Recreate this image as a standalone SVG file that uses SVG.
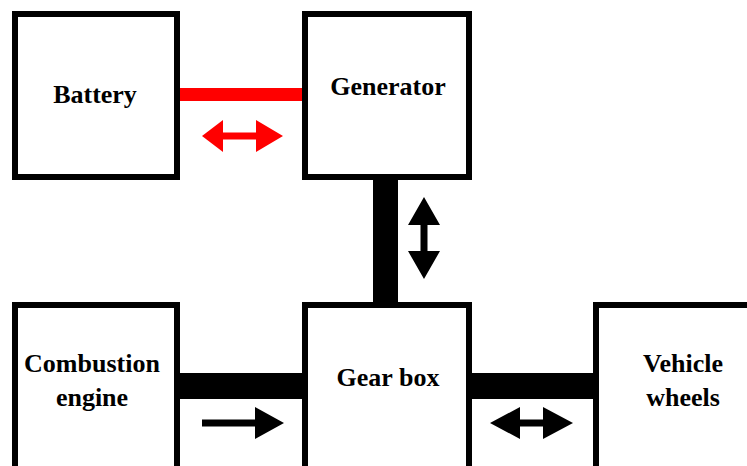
<svg xmlns="http://www.w3.org/2000/svg" width="747" height="466" viewBox="0 0 747 466">
<style>
.box{fill:#fff;stroke:#000;stroke-width:6}
.lbl{font-family:'Liberation Serif',serif;font-weight:700;font-size:26px;fill:#000;text-anchor:middle}
.shaft{stroke:#000;fill:none}
.red{stroke:#f00}
.arr{fill:#000}
.arr-red{fill:#f00}
</style>
<rect width="747" height="466" fill="#fff"/>
<g id="connectors">
<line class="shaft red" x1="178" y1="94.5" x2="304" y2="94.5" stroke-width="13"/>
<line class="shaft" x1="385.5" y1="178" x2="385.5" y2="304" stroke-width="25"/>
<line class="shaft" x1="178" y1="386" x2="304" y2="386" stroke-width="26"/>
<line class="shaft" x1="470" y1="386" x2="595" y2="386" stroke-width="26"/>
<polygon class="arr-red" points="202,136 223,120 223,132.5 256,132.5 256,120 283,136 256,152 256,139.5 223,139.5 223,152"/>
<polygon class="arr" points="424,197 440,225 427.5,225 427.5,251 440,251 424,279 408,251 420.5,251 420.5,225 408,225"/>
<polygon class="arr" points="202,419.5 255,419.5 255,407 284,423 255,439 255,426.5 202,426.5"/>
<polygon class="arr" points="490,423 520,407 520,419.5 543,419.5 543,407 573,423 543,439 543,426.5 520,426.5 520,439"/>
</g>
<g id="battery">
<rect class="box" x="15" y="14" width="162" height="163"/>
<text class="lbl" x="95" y="103" font-family="Liberation Serif">Battery</text>
</g>
<g id="generator">
<rect class="box" x="305" y="14" width="164" height="163"/>
<text class="lbl" x="388" y="95" font-family="Liberation Serif">Generator</text>
</g>
<g id="combustion-engine">
<rect class="box" x="15" y="305" width="162" height="200"/>
<text class="lbl" x="92" y="372" font-family="Liberation Serif">Combustion</text>
<text class="lbl" x="92" y="406" font-family="Liberation Serif">engine</text>
</g>
<g id="gear-box">
<rect class="box" x="305" y="305" width="164" height="200"/>
<text class="lbl" x="388" y="386" font-family="Liberation Serif">Gear box</text>
</g>
<g id="vehicle-wheels">
<rect class="box" x="596" y="305" width="200" height="200"/>
<text class="lbl" x="683" y="372" font-family="Liberation Serif">Vehicle</text>
<text class="lbl" x="683" y="406" font-family="Liberation Serif">wheels</text>
</g>
</svg>
